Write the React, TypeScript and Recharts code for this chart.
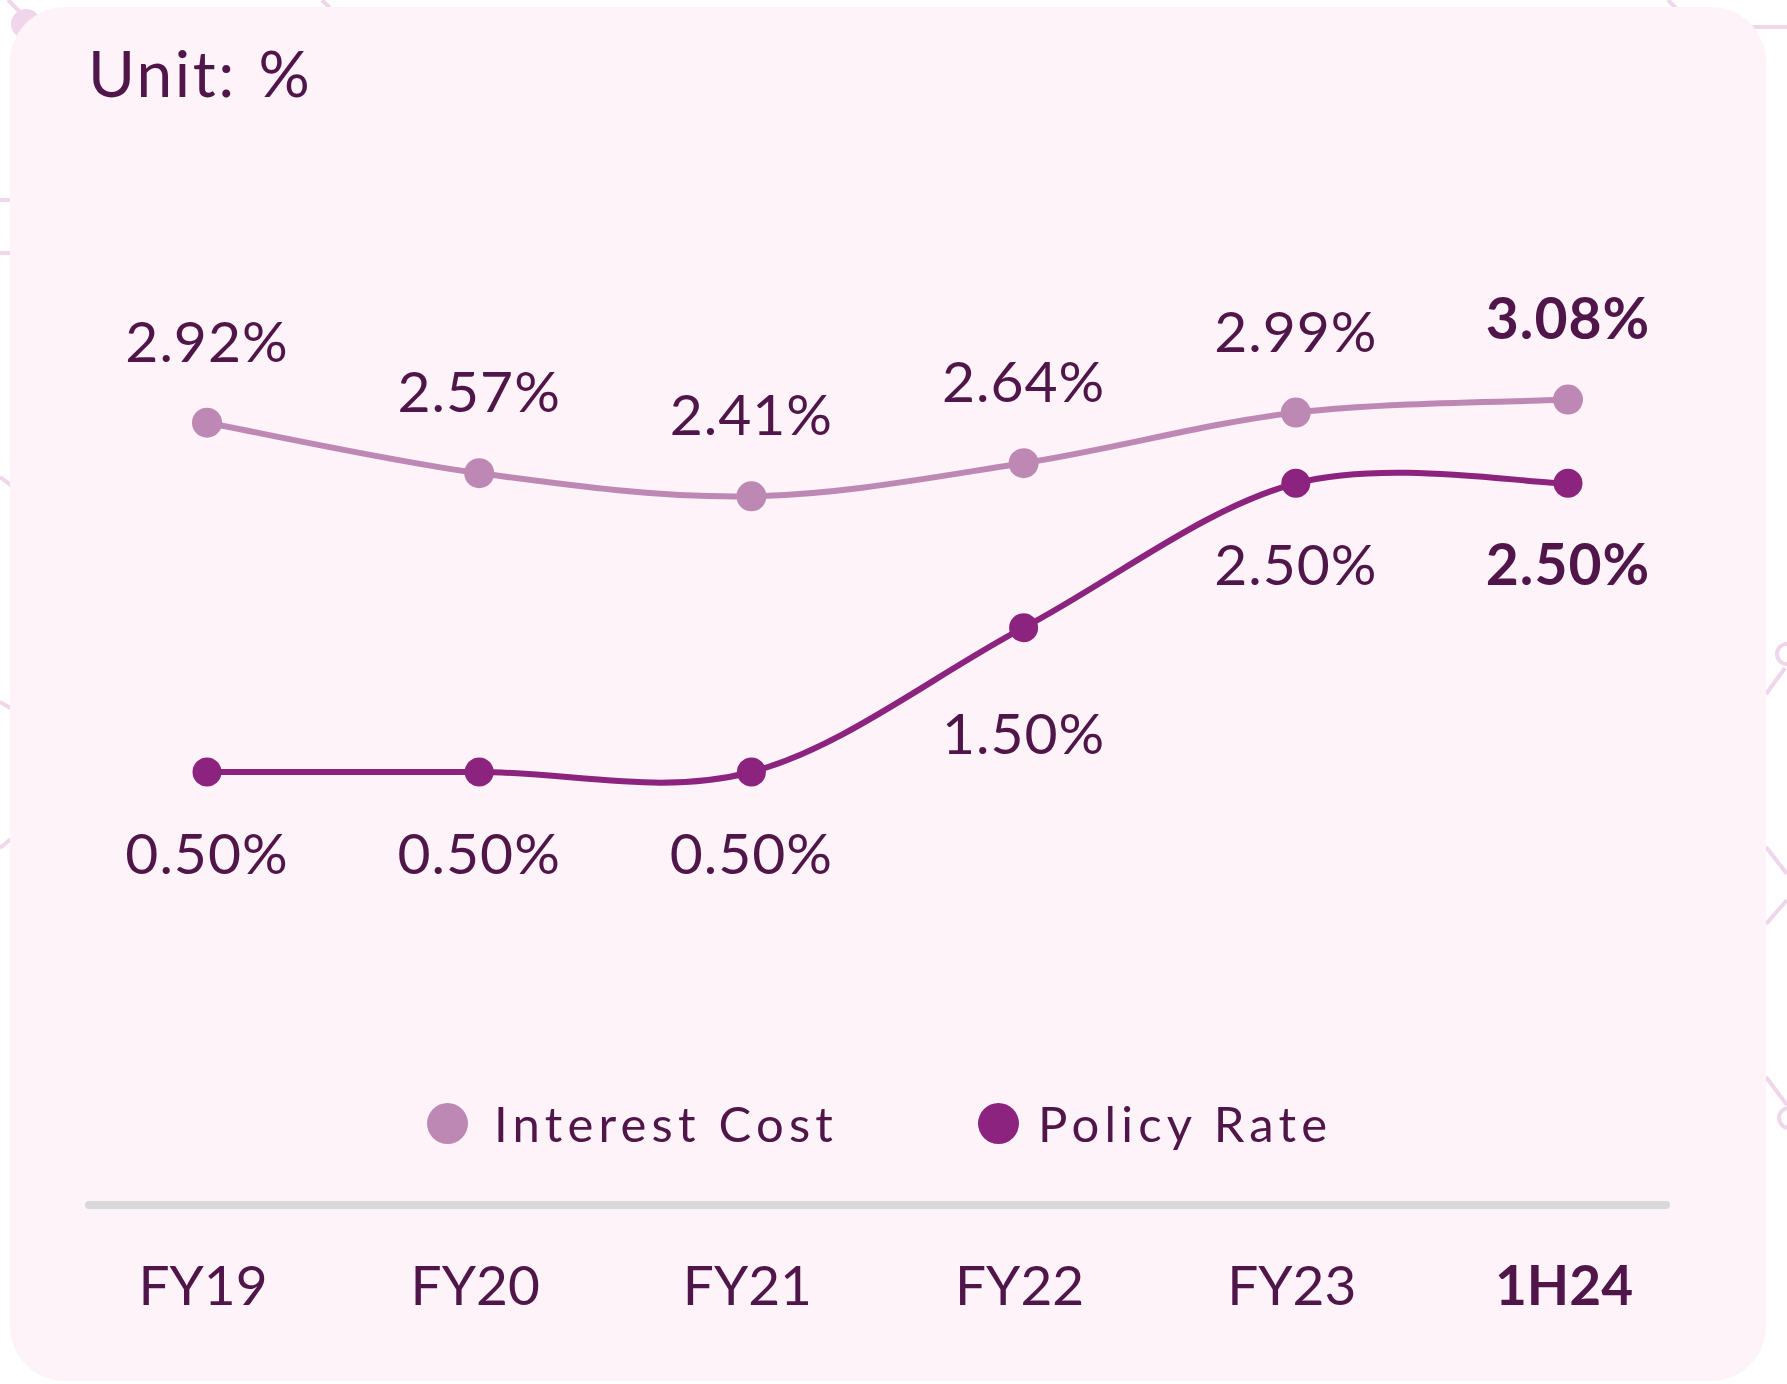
import React from 'react';
import { LineChart, Line, XAxis, YAxis, LabelList, Legend } from 'recharts';

const categories = ['FY19', 'FY20', 'FY21', 'FY22', 'FY23', '1H24'];
const interestCost = [2.92, 2.57, 2.41, 2.64, 2.99, 3.08];
const policyRate = [0.5, 0.5, 0.5, 1.5, 2.5, 2.5];

const TEXT = '#501549';
const INTEREST = '#be88b5';
const POLICY = '#8c237e';
const FONT = 'Lato, "Open Sans", sans-serif';

const data = categories.map((c, i) => ({
  period: c,
  interest: interestCost[i],
  policy: policyRate[i],
}));

const lastIdx = categories.length - 1;

// catmull-rom style cardinal curve (tension 0), written out since d3 isn't importable
function cardinal(context: any) {
  let pts: number[][] = [];
  const k = 1 / 6;
  return {
    areaStart() {},
    areaEnd() {},
    lineStart() {
      pts = [];
    },
    lineEnd() {
      const n = pts.length;
      if (!n) return;
      context.moveTo(pts[0][0], pts[0][1]);
      for (let i = 0; i < n - 1; i++) {
        const p0 = pts[Math.max(i - 1, 0)];
        const p1 = pts[i];
        const p2 = pts[i + 1];
        const p3 = pts[Math.min(i + 2, n - 1)];
        context.bezierCurveTo(
          p1[0] + (p2[0] - p0[0]) * k,
          p1[1] + (p2[1] - p0[1]) * k,
          p2[0] - (p3[0] - p1[0]) * k,
          p2[1] - (p3[1] - p1[1]) * k,
          p2[0],
          p2[1]
        );
      }
    },
    point(x: number, y: number) {
      pts.push([+x, +y]);
    },
  };
}

const fmt = (v: number) => `${v.toFixed(2)}%`;

const TopLabel = (props: any) => {
  const { x, y, value, index } = props;
  return (
    <text
      x={x}
      y={y - 61}
      textAnchor="middle"
      fill={TEXT}
      fontFamily={FONT}
      fontSize={57}
      letterSpacing={1}
      fontWeight={index === lastIdx ? 700 : 400}
    >
      {fmt(value)}
    </text>
  );
};

const BottomLabel = (props: any) => {
  const { x, y, value, index } = props;
  // a point in the middle of a climb gets its label pushed a bit lower to clear the line
  const prev = policyRate[index - 1];
  const next = policyRate[index + 1];
  const midRise = prev !== undefined && next !== undefined && prev !== value && next !== value;
  return (
    <text
      x={x}
      y={y + (midRise ? 126 : 102)}
      textAnchor="middle"
      fill={TEXT}
      fontFamily={FONT}
      fontSize={57}
      letterSpacing={1}
      fontWeight={index === lastIdx ? 700 : 400}
    >
      {fmt(value)}
    </text>
  );
};

const PeriodTick = (props: any) => {
  const { x, y, payload, index } = props;
  return (
    <text
      x={x - 4}
      y={y + 100}
      textAnchor="middle"
      fill={TEXT}
      fontFamily={FONT}
      fontSize={55}
      fontWeight={index === lastIdx ? 700 : 400}
    >
      {payload.value}
    </text>
  );
};

const LegendContent = ({ payload }: any) => (
  <div
    style={{
      display: 'flex',
      alignItems: 'center',
      fontFamily: FONT,
      fontSize: 49,
      lineHeight: '48px',
      letterSpacing: 5.2,
      color: TEXT,
      whiteSpace: 'nowrap',
    }}
  >
    {(payload || []).map((p: any, i: number) => (
      <div key={p.value} style={{ display: 'flex', alignItems: 'center', marginLeft: i === 0 ? 0 : 140 }}>
        <span
          style={{
            width: 41,
            height: 41,
            borderRadius: '50%',
            background: p.color,
            marginRight: i === 0 ? 26 : 19,
            display: 'inline-block',
          }}
        />
        <span>{p.value}</span>
      </div>
    ))}
  </div>
);

export default function App() {
  return (
    <div style={{ position: 'absolute', left: 0, top: 0, width: 1787, height: 1384, background: '#fff', overflow: 'hidden' }}>
      {/* faint background pattern outside the card */}
      <svg width={1787} height={1384} style={{ position: 'absolute', left: 0, top: 0 }}>
        <g stroke="#efd6ea" strokeWidth={4} fill="none">
          <line x1={8} y1={0} x2={20} y2={12} />
          <line x1={322} y1={0} x2={330} y2={8} />
          <line x1={1668} y1={0} x2={1676} y2={8} />
          <line x1={1750} y1={27} x2={1787} y2={27} />
          <line x1={0} y1={200} x2={12} y2={200} />
          <line x1={0} y1={253} x2={12} y2={253} />
          <line x1={0} y1={477} x2={12} y2={486} />
          <line x1={0} y1={702} x2={12} y2={709} />
          <line x1={0} y1={848} x2={12} y2={838} />
          <line x1={1766} y1={694} x2={1785} y2={668} />
          <line x1={1766} y1={847} x2={1787} y2={874} />
          <line x1={1766} y1={924} x2={1787} y2={900} />
          <line x1={1766} y1={1077} x2={1787} y2={1105} />
          <circle cx={1787} cy={654} r={10} />
          <circle cx={1789} cy={1118} r={10} />
        </g>
        <circle cx={26} cy={24} r={15} fill="#efd6ea" />
      </svg>
      <div
        style={{
          position: 'absolute',
          left: 10,
          top: 7,
          width: 1756,
          height: 1374,
          borderRadius: 55,
          background: '#fef3f9',
        }}
      />
      <div
        style={{
          position: 'absolute',
          left: 88,
          top: 41,
          fontFamily: FONT,
          fontSize: 64,
          lineHeight: '64px',
          letterSpacing: 2.5,
          wordSpacing: 3,
          color: TEXT,
        }}
      >
        Unit: %
      </div>
      <div style={{ position: 'absolute', left: 0, top: 0 }}>
        <LineChart width={1787} height={1384} data={data} margin={{ top: 339, right: 121, bottom: 0, left: 89 }}>
          <XAxis
            dataKey="period"
            height={179}
            axisLine={{ stroke: '#d9d9d9', strokeWidth: 8, strokeLinecap: 'round' }}
            tickLine={false}
            tickSize={0}
            tickMargin={0}
            padding={{ left: 118, right: 98 }}
            tick={<PeriodTick />}
            interval={0}
          />
          <YAxis hide width={0} domain={[-2.5, 3.5]} />
          <Legend
            verticalAlign="middle"
            align="center"
            layout="horizontal"
            content={<LegendContent />}
            wrapperStyle={{ left: 427, top: 1099, width: 1100, height: 48 }}
          />
          <Line
            name="Interest Cost"
            dataKey="interest"
            type={cardinal as any}
            stroke={INTEREST}
            strokeWidth={6}
            dot={{ r: 15, fill: INTEREST, stroke: 'none' }}
            activeDot={false}
            isAnimationActive={false}
          >
            <LabelList dataKey="interest" content={<TopLabel />} />
          </Line>
          <Line
            name="Policy Rate"
            dataKey="policy"
            type={cardinal as any}
            stroke={POLICY}
            strokeWidth={6}
            dot={{ r: 14.5, fill: POLICY, stroke: 'none' }}
            activeDot={false}
            isAnimationActive={false}
          >
            <LabelList dataKey="policy" content={<BottomLabel />} />
          </Line>
        </LineChart>
      </div>
    </div>
  );
}
